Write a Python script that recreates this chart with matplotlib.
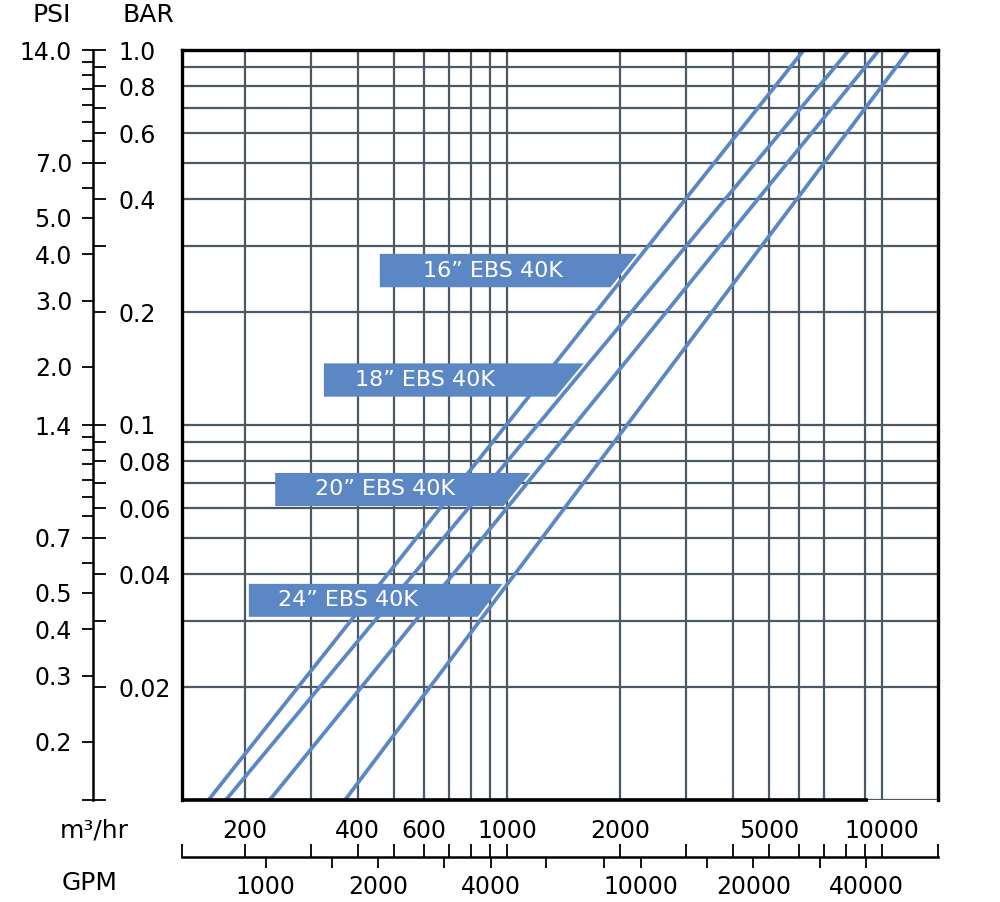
import numpy as np
import matplotlib
matplotlib.use("Agg")
import matplotlib.pyplot as plt
from matplotlib.patches import Polygon
from matplotlib.ticker import NullLocator, FixedLocator

plt.rcParams["font.family"] = ["DejaVu Sans"]

# ── Data ───────────────────────────────────────────────────────
filter_names = ["16\u201d EBS 40K", "18\u201d EBS 40K", "20\u201d EBS 40K", "24\u201d EBS 40K"]
flow_low = [160, 178, 233, 370]          # m3/hr at 0.01 bar
flow_high = [6190, 8170, 9820, 11800]    # m3/hr at 1.0 bar
dp_ends = [0.01, 1.0]                    # bar

# label boxes (m3/hr left edge, bar top / bottom, text start)
box_left = [458, 325, 241, 205]
box_top = [0.286, 0.146, 0.0745, 0.0377]
box_bottom = [0.233, 0.119, 0.0608, 0.0308]
text_left = [597, 393, 308, 245]

grid_x = [200, 300, 400, 500, 600, 700, 800, 900, 1000,
          2000, 3000, 4000, 5000, 6000, 7000, 9000, 10000]
grid_y = [0.01, 0.02, 0.03, 0.04, 0.05, 0.06, 0.07, 0.08, 0.09,
          0.1, 0.2, 0.3, 0.4, 0.5, 0.6, 0.7, 0.8, 0.9, 1.0]

bar_labels = {1.0: "1.0", 0.8: "0.8", 0.6: "0.6", 0.4: "0.4", 0.2: "0.2",
              0.1: "0.1", 0.08: "0.08", 0.06: "0.06", 0.04: "0.04", 0.02: "0.02"}
psi_ticks = [14, 13, 12, 11, 10, 9, 8, 7, 6, 5, 4, 3, 2,
             1.4, 1.3, 1.2, 1.1, 1.0, 0.9, 0.8, 0.7, 0.6, 0.5, 0.4, 0.3, 0.2, 0.14]
psi_labels = {14: "14.0", 7: "7.0", 5: "5.0", 4: "4.0", 3: "3.0", 2: "2.0",
              1.4: "1.4", 0.7: "0.7", 0.5: "0.5", 0.4: "0.4", 0.3: "0.3", 0.2: "0.2"}

m3_ticks = [200, 300, 400, 500, 600, 700, 800, 900, 1000,
            2000, 3000, 4000, 5000, 6000, 7000, 8000, 9000, 10000]
m3_labels = {200: "200", 400: "400", 600: "600", 1000: "1000",
             2000: "2000", 5000: "5000", 10000: "10000"}
gpm_ticks = [1000, 1500, 2000, 3000, 4000, 5600, 8000, 10000,
             15000, 20000, 30000, 40000]
gpm_labels = {1000: "1000", 2000: "2000", 4000: "4000",
              10000: "10000", 20000: "20000", 40000: "40000"}

GPM_PER_M3H = 4.403
PSI_PER_BAR = 14.0

# ── Style ──────────────────────────────────────────────────────
XLIM = (136, 14100)
YLIM = (0.01, 1.0)
BLUE = "#5b87c5"
GRID = "#4c5863"
FS = 16
FS_TICK = 17
FS_HEAD = 18
FRAME_BOTTOM_END = 9200   # black bottom frame stops short of the right edge

fig = plt.figure(figsize=(10, 9.02), dpi=100)
W, H = 1000, 902


def fx(px):
    return px / W


def fy(py):
    return 1 - py / H


ax_b, ax_t = fy(800), fy(50)
ax = fig.add_axes([fx(182), ax_b, fx(938) - fx(182), ax_t - ax_b])
ax.set_xscale("log")
ax.set_yscale("log")
ax.set_xlim(*XLIM)
ax.set_ylim(*YLIM)
ax.xaxis.set_major_locator(FixedLocator(grid_x))
ax.yaxis.set_major_locator(FixedLocator(grid_y))
ax.xaxis.set_minor_locator(NullLocator())
ax.yaxis.set_minor_locator(NullLocator())
ax.tick_params(length=0, labelbottom=False, labelleft=False)
ax.grid(True, color=GRID, linewidth=1.6, zorder=0)
ax.set_axisbelow(True)
for side in ["top", "left", "right"]:
    ax.spines[side].set_linewidth(2.4)
    ax.spines[side].set_color("black")
    ax.spines[side].set_zorder(6)
ax.spines["bottom"].set_visible(False)
ax.plot([XLIM[0], FRAME_BOTTOM_END], [YLIM[0], YLIM[0]], color="black",
        linewidth=2.6, zorder=6, clip_on=False, solid_capstyle="butt")

# pressure-drop lines
for lo, hi in zip(flow_low, flow_high):
    ax.plot([lo, hi], dp_ends, color=BLUE, linewidth=2.7, zorder=3,
            solid_capstyle="butt")


def flow_on_line(i, dp):
    t = (np.log10(dp) - np.log10(dp_ends[0])) / (np.log10(dp_ends[1]) - np.log10(dp_ends[0]))
    return 10 ** (np.log10(flow_low[i]) + t * (np.log10(flow_high[i]) - np.log10(flow_low[i])))


gap = 10 ** (-5 / 375)
for i, name in enumerate(filter_names):
    xr_top = flow_on_line(i, box_top[i]) * gap
    xr_bot = flow_on_line(i, box_bottom[i]) * gap
    verts = [(box_left[i], box_bottom[i]), (box_left[i], box_top[i]),
             (xr_top, box_top[i]), (xr_bot, box_bottom[i])]
    ax.add_patch(Polygon(verts, closed=True, facecolor=BLUE, edgecolor="none", zorder=4))
    ymid = np.sqrt(box_top[i] * box_bottom[i])
    ax.text(text_left[i], ymid, name, color="white", fontsize=FS,
            ha="left", va="center", zorder=5)

# ── Left scales (PSI / BAR share one spine) ────────────────────
ax_psi = fig.add_axes([fx(93), ax_b, 0.0001, ax_t - ax_b])
ax_psi.set_yscale("log")
ax_psi.set_ylim(YLIM[0] * PSI_PER_BAR, YLIM[1] * PSI_PER_BAR)
ax_psi.patch.set_visible(False)
for side in ["top", "bottom", "right"]:
    ax_psi.spines[side].set_visible(False)
ax_psi.spines["left"].set_linewidth(1.8)
ax_psi.set_xticks([])
ax_psi.yaxis.set_minor_locator(NullLocator())
ax_psi.set_yticks(psi_ticks, [psi_labels.get(v, "") for v in psi_ticks])
ax_psi.tick_params(axis="y", direction="out", length=8, width=1.3, pad=7, labelsize=FS_TICK)

ax_bar = fig.add_axes([fx(83), ax_b, fx(10), ax_t - ax_b])
ax_bar.set_yscale("log")
ax_bar.set_ylim(*YLIM)
ax_bar.patch.set_visible(False)
for side in ax_bar.spines:
    ax_bar.spines[side].set_visible(False)
ax_bar.set_xticks([])
ax_bar.yaxis.tick_right()
ax_bar.yaxis.set_minor_locator(NullLocator())
ax_bar.set_yticks(grid_y, [bar_labels.get(v, "") for v in grid_y])
ax_bar.tick_params(axis="y", direction="out", length=9.4, width=1.3, pad=9, labelsize=FS_TICK)

# ── Bottom scales (m3/hr above, GPM below one line) ────────────
line_y = fy(857)
ax_m3 = fig.add_axes([fx(182), line_y - 0.01, fx(938) - fx(182), 0.01])
ax_m3.set_xscale("log")
ax_m3.set_xlim(*XLIM)
ax_m3.patch.set_visible(False)
for side in ["bottom", "left", "right"]:
    ax_m3.spines[side].set_visible(False)
ax_m3.spines["top"].set_linewidth(1.8)
ax_m3.set_yticks([])
ax_m3.xaxis.tick_top()
ax_m3.xaxis.set_minor_locator(NullLocator())
m3_all = [XLIM[0]] + m3_ticks + [XLIM[1]]
ax_m3.set_xticks(m3_all, [m3_labels.get(v, "") for v in m3_all])
ax_m3.tick_params(axis="x", direction="out", length=9.4, width=1.3, pad=1, labelsize=FS_TICK)

ax_gpm = fig.add_axes([fx(182), line_y, fx(938) - fx(182), 0.01])
ax_gpm.set_xscale("log")
ax_gpm.set_xlim(XLIM[0] * GPM_PER_M3H, XLIM[1] * GPM_PER_M3H)
ax_gpm.patch.set_visible(False)
for side in ax_gpm.spines:
    ax_gpm.spines[side].set_visible(False)
ax_gpm.set_yticks([])
ax_gpm.xaxis.set_minor_locator(NullLocator())
ax_gpm.set_xticks(gpm_ticks, [gpm_labels.get(v, "") for v in gpm_ticks])
ax_gpm.tick_params(axis="x", direction="out", length=8, width=1.3, pad=5, labelsize=FS_TICK)

# axis headers
fig.text(fx(52), fy(15), "PSI", fontsize=FS_HEAD, ha="center", va="center")
fig.text(fx(148), fy(15), "BAR", fontsize=FS_HEAD, ha="center", va="center")
fig.text(fx(94), fy(831), "m\u00b3/hr", fontsize=FS_HEAD, ha="center", va="center")
fig.text(fx(90), fy(883), "GPM", fontsize=FS_HEAD, ha="center", va="center")

fig.savefig("out.png", dpi=100)
